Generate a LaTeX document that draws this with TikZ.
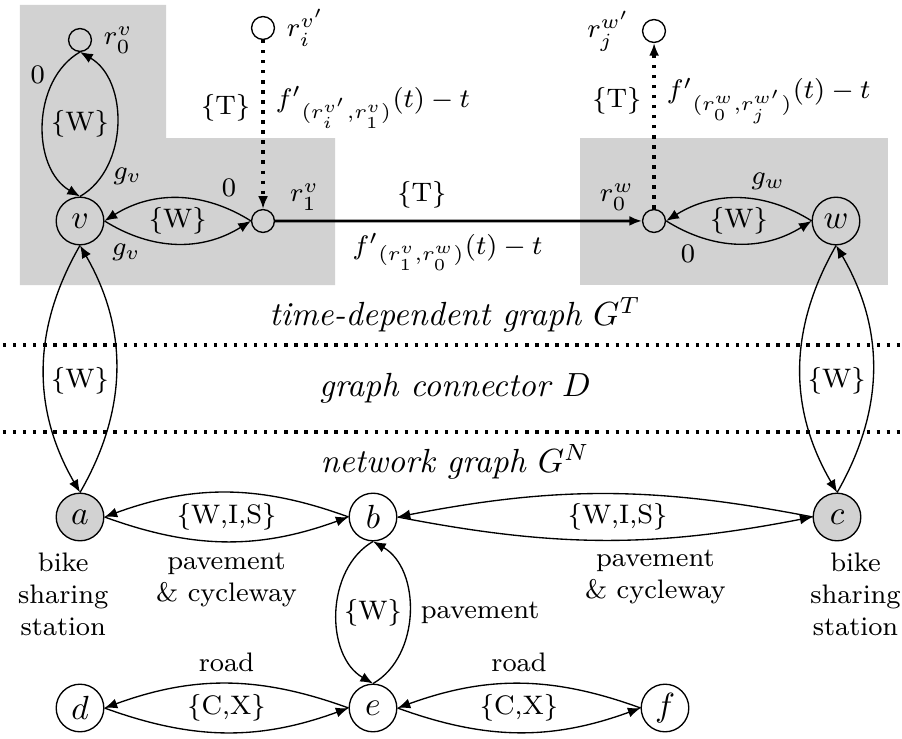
\documentclass[tikz,border=0pt]{standalone}
\usepackage{tikz}
\usetikzlibrary{positioning,arrows.meta}
\tikzset{>={Latex[length=3.8pt,width=3pt]}}

\begin{document}
\begin{tikzpicture}[scale=1.05,
  every node/.style={font=\footnotesize},
  big/.style={draw,circle,minimum size=5mm,inner sep=0pt,font=\normalsize},
  small/.style={draw,circle,minimum size=2.4mm,inner sep=0pt},
  station/.style={big,fill=gray!35},
  lens/.style={->,bend right=#1},
  zone/.style={fill=gray!35},
  divider/.style={dotted,line width=1pt},
  jump/.style={->,dotted,line width=1pt},
  layer/.style={font=\normalsize\itshape},
  note/.style={align=center}]
\useasboundingbox (0,0) rectangle (9.02,7.38);
\fill[zone] (0.20,7.33) -- (1.66,7.33) -- (1.66,6.00) -- (3.35,6.00) -- (3.35,4.53) -- (0.20,4.53) -- cycle;
\fill[zone] (5.80,6.00) rectangle (8.88,4.53);
\draw[divider] (0.03,3.93) -- (9.02,3.93);
\draw[divider] (0.03,3.06) -- (9.02,3.06);
\node[layer] (tdg) at (4.55,4.23) {time-dependent graph $G^T$};
\node[layer] (gcd) at (4.55,3.50) {graph connector $D$};
\node[layer] (ngr) at (4.55,2.76) {network graph $G^N$};

\node[big] (v) at (0.80,5.17) {$v$};
\node[small,label=right:$r_0^v$] (r0v) at (0.80,6.98) {};
\node[small,label={[xshift=2pt,yshift=-3pt]above right:$r_1^v$}] (r1v) at (2.63,5.17) {};
\node[small,label=right:$r_i^{v'}$] (riv) at (2.63,7.10) {};
\node[small,label={[yshift=-3pt]above left:$r_0^w$}] (r0w) at (6.54,5.17) {};
\node[big] (w) at (8.36,5.17) {$w$};
\node[small,label=left:$r_j^{w'}$] (rjw) at (6.54,7.07) {};
\node[station] (a) at (0.80,2.21) {$a$};
\node[big] (b) at (3.73,2.21) {$b$};
\node[station] (c) at (8.37,2.21) {$c$};
\node[big] (d) at (0.80,0.30) {$d$};
\node[big] (e) at (3.73,0.30) {$e$};
\node[big] (f) at (6.65,0.30) {$f$};
\node[note,below=0pt of a,xshift=-5pt] (sa) {bike\\sharing\\station};
\node[note,below=0pt of c,xshift=5.5pt] (sc) {bike\\sharing\\station};

\draw[lens=60] (r0v.south) to node[pos=0.2,left] {0} (v.north);
\draw[lens=60] (v.north) to node[pos=0.18,right] {$g_v$} (r0v.south);
\path (v.north) -- node {\{W\}} (r0v.south);
\draw[lens=32] (r1v.west) to node[pos=0.15,above] {0} (v.east);
\draw[lens=32] (v.east) to node[pos=0.15,below] {$g_v$} (r1v.west);
\path (v.east) -- node {\{W\}} (r1v.west);
\draw[jump] (riv.south) -- node[pos=0.4,left] {\{T\}} node[pos=0.4,right] {${f'}_{(r_i^{v'},r_1^v)}(t)-t$} (r1v.north);
\draw[->,thick] (r1v) -- node[pos=0.4,above] {\{T\}} node[pos=0.47,below] {${f'}_{(r_1^v,r_0^w)}(t)-t$} (r0w);
\draw[jump] (r0w.north) -- node[pos=0.65,left] {\{T\}} node[pos=0.65,right] {${f'}_{(r_0^w,r_j^{w'})}(t)-t$} (rjw.south);
\draw[lens=32] (w.west) to node[pos=0.3,above] {$g_w$} (r0w.east);
\draw[lens=32] (r0w.east) to node[pos=0.15,below] {0} (w.west);
\path (r0w.east) -- node {\{W\}} (w.west);

\draw[lens=30] (v.south) to (a.north);
\draw[lens=30] (a.north) to (v.south);
\path (v.south) -- node[pos=0.55] {\{W\}} (a.north);
\draw[lens=30] (w.south) to (c.north);
\draw[lens=30] (c.north) to (w.south);
\path (w.south) -- node[pos=0.55] {\{W\}} (c.north);

\draw[lens=20] (b.west) to (a.east);
\draw[lens=20] (a.east) to node[below,note] {pavement\\\& cycleway} (b.west);
\path (a.east) -- node {\{W,I,S\}} (b.west);
\draw[lens=11] (c.west) to (b.east);
\draw[lens=11] (b.east) to node[pos=0.63,below,note] {pavement\\\& cycleway} (c.west);
\path (b.east) -- node[pos=0.53] {\{W,I,S\}} (c.west);
\draw[lens=60] (b.south) to (e.north);
\draw[lens=60] (e.north) to node[right] {pavement} (b.south);
\path (b.south) -- node {\{W\}} (e.north);
\draw[lens=20] (e.west) to node[above] {road} (d.east);
\draw[lens=20] (d.east) to (e.west);
\path (d.east) -- node {\{C,X\}} (e.west);
\draw[lens=20] (f.west) to node[above] {road} (e.east);
\draw[lens=20] (e.east) to (f.west);
\path (e.east) -- node {\{C,X\}} (f.west);
\end{tikzpicture}
\end{document}
